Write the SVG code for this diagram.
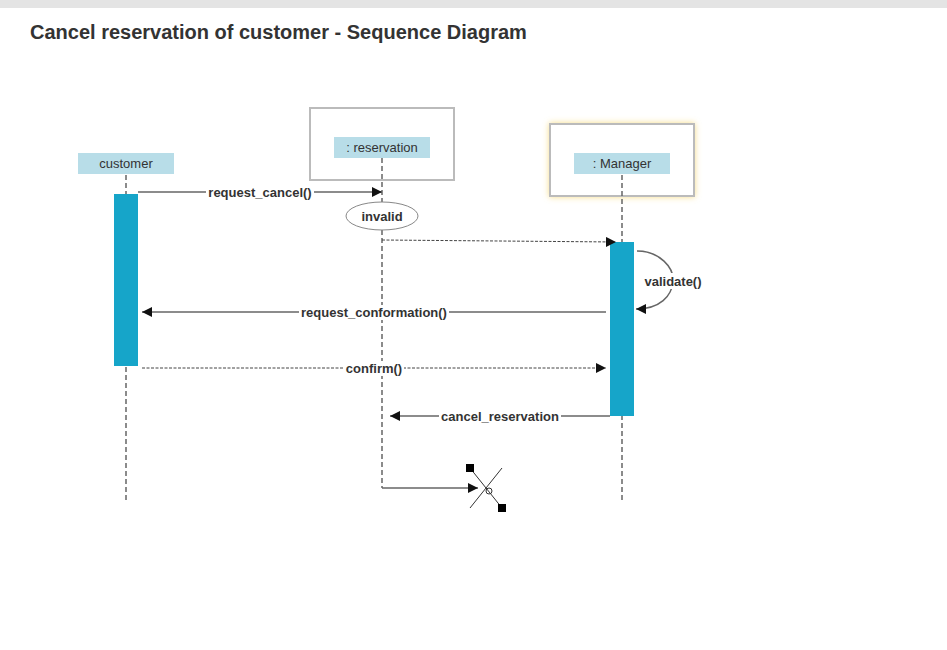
<svg xmlns="http://www.w3.org/2000/svg" width="947" height="650" viewBox="0 0 947 650">
<defs>
<style>
.title{font-family:"Liberation Sans",Arial,sans-serif;font-size:20px;font-weight:bold;fill:#333}
.lbl{font-family:"Liberation Sans",Arial,sans-serif;font-size:13px;fill:#333;text-anchor:middle}
.msg{font-family:"Liberation Sans",Arial,sans-serif;font-size:13px;font-weight:bold;fill:#333;text-anchor:middle}
.head{fill:#b8dde8}
.frame{fill:#fff;stroke:#bbb;stroke-width:2}
.life{stroke:#666;stroke-width:1.5;stroke-dasharray:5,3;fill:none}
.act{fill:#16a5c9}
.solid{stroke:#666;stroke-width:1.5;fill:none}
.dash{stroke:#444;stroke-width:1;stroke-dasharray:3,1.5;fill:none}
.bg{fill:#fff}
</style>
<marker id="ah" viewBox="0 0 10 10" refX="10" refY="5" markerWidth="10" markerHeight="10" markerUnits="userSpaceOnUse" orient="auto">
<path d="M0,0 L10,5 L0,10 Z" fill="#111"/>
</marker>
<filter id="glow" x="-20%" y="-20%" width="140%" height="140%">
<feDropShadow dx="0" dy="0" stdDeviation="3" flood-color="#f5d56b" flood-opacity="0.8"/>
</filter>
</defs>
<rect x="0" y="0" width="947" height="650" fill="#fff"/>
<rect x="0" y="0" width="947" height="8" fill="#e4e4e4"/>
<text class="title" x="30" y="39">Cancel reservation of customer - Sequence Diagram</text>

<g id="node-customer">
<rect class="head" x="78" y="153" width="96" height="21"/>
<text class="lbl" x="126" y="168">customer</text>
<line class="life" x1="126" y1="175" x2="126" y2="502"/>
<rect class="act" x="114" y="194" width="24" height="172"/>
</g>

<g id="node-reservation">
<rect class="frame" x="310" y="108" width="144" height="72"/>
<rect class="head" x="334" y="137" width="96" height="21"/>
<text class="lbl" x="382" y="152">: reservation</text>
<line class="life" x1="382" y1="158" x2="382" y2="488"/>
</g>

<g id="node-manager">
<rect class="frame" x="550" y="124" width="144" height="72" filter="url(#glow)"/>
<rect class="head" x="574" y="153" width="96" height="21"/>
<text class="lbl" x="622" y="168">: Manager</text>
<line class="life" x1="622" y1="175" x2="622" y2="502"/>
<rect class="act" x="610" y="242" width="24" height="174"/>
</g>

<g id="node-invalid">
<ellipse cx="382" cy="216" rx="36" ry="14" fill="#fff" stroke="#888" stroke-width="1"/>
<text class="msg" x="382" y="220.5">invalid</text>
</g>

<g id="node-destroy">
<line x1="470" y1="468" x2="502" y2="508" stroke="#333" stroke-width="1"/>
<line x1="502" y1="468" x2="470" y2="508" stroke="#333" stroke-width="1"/>
<rect x="466" y="464" width="8" height="8" fill="#000"/>
<rect x="498" y="504" width="8" height="8" fill="#000"/>
<circle cx="489" cy="491" r="3" fill="none" stroke="#333" stroke-width="1"/>
</g>

<g id="connectors">
<line class="solid" x1="138" y1="192" x2="382" y2="192" marker-end="url(#ah)"/>
<rect class="bg" x="206" y="185" width="108" height="15"/>
<text class="msg" x="260" y="197">request_cancel()</text>

<line class="dash" x1="382" y1="240" x2="616" y2="242" marker-end="url(#ah)"/>

<path class="solid" d="M637,251 C660,251 674,268 673,281 C672,296 660,309 636,309" stroke="#222" stroke-width="1" marker-end="url(#ah)"/>
<rect class="bg" x="643" y="273" width="60" height="16"/>
<text class="msg" x="673" y="286">validate()</text>

<line class="solid" x1="606" y1="312" x2="142" y2="312" marker-end="url(#ah)"/>
<rect class="bg" x="299" y="305" width="150" height="15"/>
<text class="msg" x="374" y="317">request_conformation()</text>

<line class="dash" x1="142" y1="368" x2="606" y2="368" marker-end="url(#ah)"/>
<rect class="bg" x="344" y="361" width="60" height="15"/>
<text class="msg" x="374" y="373">confirm()</text>

<line class="solid" x1="610" y1="416" x2="390" y2="416" marker-end="url(#ah)"/>
<rect class="bg" x="439" y="409" width="122" height="15"/>
<text class="msg" x="500" y="421">cancel_reservation</text>

<line class="solid" x1="382" y1="488" x2="478" y2="488" marker-end="url(#ah)"/>
</g>
</svg>
